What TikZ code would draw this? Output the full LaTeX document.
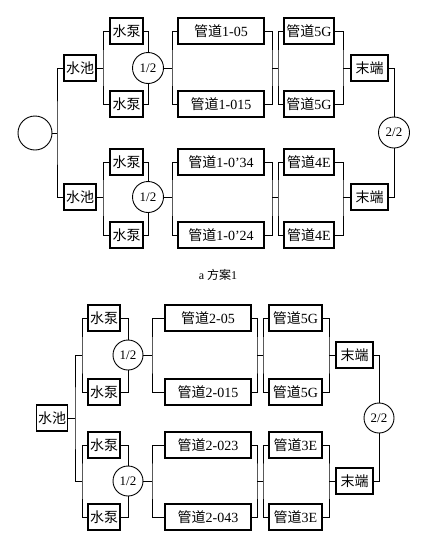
\documentclass[tikz,border=0pt]{standalone}
\usepackage{fontspec}
\setmainfont{Liberation Serif}
\newfontfamily\cjk{Noto Sans CJK SC}
\newcommand\zh[1]{{\cjk #1}}
\begin{document}
\begin{tikzpicture}[x=1pt,y=-1pt,
  box/.style={draw, line width=1.5pt, minimum height=26pt, inner sep=0pt, font=\fontsize{14}{15}\selectfont},
  circ/.style={draw, circle, line width=0.9pt, inner sep=0pt, font=\fontsize{13}{14}\selectfont},
  conn/.style={line width=1pt}]
\useasboundingbox (0,0) rectangle (433,544);
% ===== top diagram =====
\node[circ, minimum size=34pt] (c0) at (35,133) {};
\node[box, minimum width=32pt] (tp1) at (80,68) {\zh{水池}};
\node[box, minimum width=32pt] (tp2) at (80,197) {\zh{水池}};
\node[box, minimum width=33pt] (tu1) at (126.5,31) {\zh{水泵}};
\node[box, minimum width=33pt] (tu2) at (126.5,104) {\zh{水泵}};
\node[box, minimum width=33pt] (tu3) at (126.5,162) {\zh{水泵}};
\node[box, minimum width=33pt] (tu4) at (126.5,235) {\zh{水泵}};
\node[circ, minimum size=31pt] (tk1) at (148,68) {1/2};
\node[circ, minimum size=31pt] (tk2) at (148,197) {1/2};
\node[box, minimum width=86pt] (tg1) at (221,31) {\zh{管道}1-05};
\node[box, minimum width=86pt] (tg2) at (221,104) {\zh{管道}1-015};
\node[box, minimum width=86pt] (tg3) at (221,162) {\zh{管道}1-0’34};
\node[box, minimum width=86pt] (tg4) at (221,235) {\zh{管道}1-0’24};
\node[box, minimum width=50pt] (th1) at (309,31) {\zh{管道}5G};
\node[box, minimum width=50pt] (th2) at (309,104) {\zh{管道}5G};
\node[box, minimum width=50pt] (th3) at (309,162) {\zh{管道}4E};
\node[box, minimum width=50pt] (th4) at (309,235) {\zh{管道}4E};
\node[box, minimum width=37pt] (tm1) at (369.5,68) {\zh{末端}};
\node[box, minimum width=37pt] (tm2) at (369.5,197) {\zh{末端}};
\node[circ, minimum size=31pt] (tk3) at (394,132.5) {2/2};

\coordinate (ta) at (57,133);
\draw[conn] (c0.east) -- (ta);
\draw[conn] (tp1.west) -| (ta) |- (tp2.west);
\coordinate (tb1) at (103,68);
\coordinate (tb2) at (103,197);
\draw[conn] (tp1.east) -- (tb1);
\draw[conn] (tp2.east) -- (tb2);
\draw[conn] (tu1.west) -| (tb1) |- (tu2.west);
\draw[conn] (tu3.west) -| (tb2) |- (tu4.west);
\draw[conn] (tu1.east) -| (tk1.north);
\draw[conn] (tu2.east) -| (tk1.south);
\draw[conn] (tu3.east) -| (tk2.north);
\draw[conn] (tu4.east) -| (tk2.south);
\coordinate (tc1) at (172,68);
\coordinate (tc2) at (172,197);
\draw[conn] (tk1.east) -- (tc1);
\draw[conn] (tk2.east) -- (tc2);
\draw[conn] (tg1.west) -| (tc1) |- (tg2.west);
\draw[conn] (tg3.west) -| (tc2) |- (tg4.west);
\coordinate (td1) at (272,68);
\coordinate (td2) at (272,197);
\coordinate (te1) at (278,68);
\coordinate (te2) at (278,197);
\draw[conn] (tg1.east) -| (td1) |- (tg2.east);
\draw[conn] (tg3.east) -| (td2) |- (tg4.east);
\draw[conn] (td1) -- (te1);
\draw[conn] (td2) -- (te2);
\draw[conn] (th1.west) -| (te1) |- (th2.west);
\draw[conn] (th3.west) -| (te2) |- (th4.west);
\coordinate (tf1) at (343,68);
\coordinate (tf2) at (343,197);
\draw[conn] (th1.east) -| (tf1) |- (th2.east);
\draw[conn] (th3.east) -| (tf2) |- (th4.east);
\draw[conn] (tf1) -- (tm1.west);
\draw[conn] (tf2) -- (tm2.west);
\draw[conn] (tm1.east) -| (tk3.north);
\draw[conn] (tm2.east) -| (tk3.south);

\node[font=\fontsize{12}{14}\selectfont] (cap) at (218,275) {a \zh{方案}1};

% ===== bottom diagram =====
\node[box, minimum width=31pt] (bp) at (52,418) {\zh{水池}};
\node[box, minimum width=32pt] (bu1) at (104,318) {\zh{水泵}};
\node[box, minimum width=32pt] (bu2) at (104,392) {\zh{水泵}};
\node[box, minimum width=32pt] (bu3) at (104,445) {\zh{水泵}};
\node[box, minimum width=32pt] (bu4) at (104,517) {\zh{水泵}};
\node[circ, minimum size=30pt] (bk1) at (128,355) {1/2};
\node[circ, minimum size=30pt] (bk2) at (128,481) {1/2};
\node[box, minimum width=86pt] (bg1) at (208,318) {\zh{管道}2-05};
\node[box, minimum width=86pt] (bg2) at (208,392) {\zh{管道}2-015};
\node[box, minimum width=86pt] (bg3) at (208,445) {\zh{管道}2-023};
\node[box, minimum width=86pt] (bg4) at (208,517) {\zh{管道}2-043};
\node[box, minimum width=53pt] (bh1) at (295.5,318) {\zh{管道}5G};
\node[box, minimum width=53pt] (bh2) at (295.5,392) {\zh{管道}5G};
\node[box, minimum width=53pt] (bh3) at (295.5,445) {\zh{管道}3E};
\node[box, minimum width=53pt] (bh4) at (295.5,517) {\zh{管道}3E};
\node[box, minimum width=37pt] (bm1) at (354.5,355) {\zh{末端}};
\node[box, minimum width=37pt] (bm2) at (354.5,481) {\zh{末端}};
\node[circ, minimum size=30pt] (bk3) at (379,418) {2/2};

\coordinate (ba) at (75,418);
\draw[conn] (bp.east) -- (ba);
\coordinate (bb1) at (82,355);
\coordinate (bb2) at (82,481);
\draw[conn] (bb1) -| (ba) |- (bb2);
\draw[conn] (bu1.west) -| (bb1) |- (bu2.west);
\draw[conn] (bu3.west) -| (bb2) |- (bu4.west);
\draw[conn] (bu1.east) -| (bk1.north);
\draw[conn] (bu2.east) -| (bk1.south);
\draw[conn] (bu3.east) -| (bk2.north);
\draw[conn] (bu4.east) -| (bk2.south);
\coordinate (bc1) at (152,355);
\coordinate (bc2) at (152,481);
\draw[conn] (bk1.east) -- (bc1);
\draw[conn] (bk2.east) -- (bc2);
\draw[conn] (bg1.west) -| (bc1) |- (bg2.west);
\draw[conn] (bg3.west) -| (bc2) |- (bg4.west);
\coordinate (bd1) at (257,355);
\coordinate (bd2) at (257,481);
\coordinate (be1) at (263,355);
\coordinate (be2) at (263,481);
\draw[conn] (bg1.east) -| (bd1) |- (bg2.east);
\draw[conn] (bg3.east) -| (bd2) |- (bg4.east);
\draw[conn] (bd1) -- (be1);
\draw[conn] (bd2) -- (be2);
\draw[conn] (bh1.west) -| (be1) |- (bh2.west);
\draw[conn] (bh3.west) -| (be2) |- (bh4.west);
\coordinate (bf1) at (329,355);
\coordinate (bf2) at (329,481);
\draw[conn] (bh1.east) -| (bf1) |- (bh2.east);
\draw[conn] (bh3.east) -| (bf2) |- (bh4.east);
\draw[conn] (bf1) -- (bm1.west);
\draw[conn] (bf2) -- (bm2.west);
\draw[conn] (bm1.east) -| (bk3.north);
\draw[conn] (bm2.east) -| (bk3.south);
\end{tikzpicture}
\end{document}
